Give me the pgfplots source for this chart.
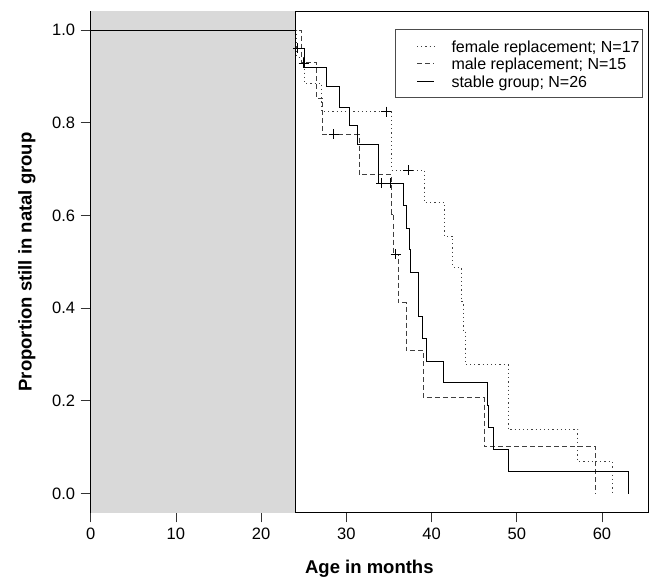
\documentclass[border=0pt]{standalone}
\usepackage{pgfplots}
\pgfplotsset{compat=1.18}
\usepackage{fontspec}
\setmainfont{Liberation Sans}
\definecolor{shade}{HTML}{D9D9D9}
\begin{document}
\begin{tikzpicture}
\path[use as bounding box] (-90.7pt,-66.7pt) rectangle (560.3pt,512.3pt);
\begin{axis}[
  scale only axis,
  width=557.3pt, height=500.6pt,
  xmin=0, xmax=65.4, ymin=-0.0404, ymax=1.0395,
  axis line style={black, line width=0.8pt},
  xtick={0,10,...,60}, ytick={0,0.2,...,1.0},
  tick align=outside, major tick length=10pt,
  tick style={black!80, line width=0.8pt},
  xtick pos=bottom, ytick pos=left,
  /pgf/number format/assume math mode=true,
  ticklabel style={font=\fontsize{16.5}{19}\selectfont},
  xticklabel style={yshift=-2.5pt},
  yticklabel style={xshift=-2pt, /pgf/number format/.cd, fixed, fixed zerofill, precision=1},
  xlabel={Age in months},
  ylabel={Proportion still in natal group},
  label style={font=\fontsize{18.5}{22}\selectfont\bfseries},
  xlabel style={at={([yshift=-56.5pt]axis description cs:0.5,0)}, anchor=center},
  ylabel style={at={([xshift=-63.7pt]axis description cs:0,0.5)}, anchor=center},
  legend style={at={([xshift=-5pt,yshift=-17.3pt]rel axis cs:1,1)}, anchor=north east,
    draw=black!70, line width=0.8pt, font=\fontsize{16}{18}\selectfont, cells={anchor=west},
    inner xsep=1pt, inner ysep=8pt, row sep=0pt,
    nodes={inner xsep=2pt, inner ysep=1pt, text height=14pt, text depth=1.5pt}},
  legend image code/.code={\path (0pt,0pt) (52pt,0pt); \draw[#1] (20pt,0pt) -- (37pt,0pt);},
  clip=true,
]
\addplot[fill=shade, draw=none, forget plot] coordinates {(0,-0.1) (24,-0.1) (24,1.1) (0,1.1)} -- cycle;
\addplot[black, line width=0.8pt, forget plot] coordinates {(24,-0.1) (24,1.1)};
\addplot[black!65, line width=0.9pt, forget plot] coordinates {(0,1) (24,1)};
% female replacement (dotted)
\addplot[const plot, black!75, line width=0.9pt, dash pattern=on 1.2pt off 3pt] coordinates {
(0,1) (24.2,0.941) (25.05,0.885) (27.1,0.8237) (35.3,0.698) (39.2,0.627) (41.55,0.555)
(42.5,0.488) (43.5,0.4135) (43.7,0.352) (43.95,0.278) (48.97,0.1388) (57.15,0.0697) (61.17,0) };
\addlegendentry{female replacement; N=17}
% male replacement (dashed)
\addplot[const plot, black!75, line width=0.9pt, dash pattern=on 5pt off 3pt] coordinates {
(0,1) (24.7,0.929) (26.5,0.8525) (27.2,0.775) (31.5,0.6886) (35.3,0.603) (35.5,0.516)
(36.08,0.412) (37.0,0.309) (39.05,0.2064) (46.16,0.102) (59.26,0) };
\addlegendentry{male replacement; N=15}
% stable group (solid)
\addplot[const plot, black, line width=0.9pt] coordinates {
(0,1) (24.05,0.9605) (25.05,0.9195) (27.7,0.8777) (29.15,0.834) (30.4,0.795) (31.27,0.7533)
(33.73,0.669) (36.75,0.622) (37.1,0.573) (37.45,0.527) (37.56,0.4777) (38.5,0.3827)
(38.9,0.3346) (39.45,0.286) (41.35,0.2388) (46.55,0.1906) (46.7,0.1425) (47.3,0.095)
(49.05,0.0467) (63.05,0) };
\addlegendentry{stable group; N=26}
% censoring marks
\addplot[only marks, mark=+, mark size=5pt, black, line width=0.8pt, forget plot] coordinates {
(24.3,0.9605) (34.1,0.669) (35.2,0.669) (25.0,0.929) (28.5,0.775) (35.77,0.516)
(34.7,0.8237) (37.25,0.698) };
\end{axis}
\end{tikzpicture}
\end{document}
